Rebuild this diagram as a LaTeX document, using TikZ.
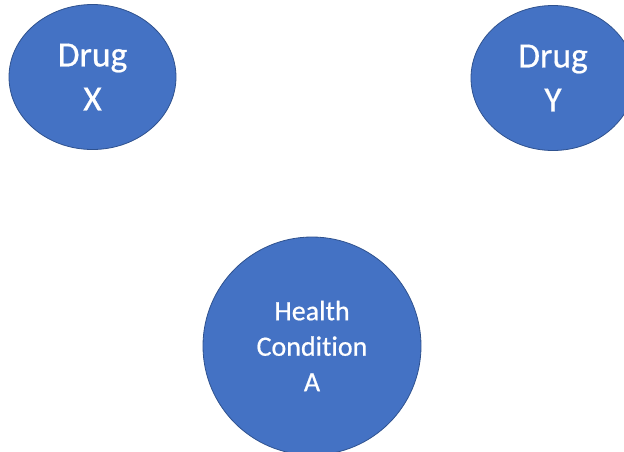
\documentclass[tikz,border=0pt]{standalone}
\usepackage{fontspec}
\setmainfont{Carlito}[Ligatures=NoCommon, FakeBold=0.6]
\usetikzlibrary{shapes.geometric}
\definecolor{officeblue}{HTML}{4472C4}
\definecolor{officeborder}{HTML}{2F528F}
\tikzset{
  bubble/.style={ellipse, fill=officeblue, draw=officeborder, line width=0.8pt,
    text=white, align=center, inner sep=0pt},
  drugfont/.style={font=\fontsize{35.5}{44}\selectfont},
  condfont/.style={font=\fontsize{28}{35.5}\selectfont}
}
\begin{document}
\begin{tikzpicture}[x=1pt,y=-1pt]
\useasboundingbox (0,0) rectangle (624,451);
\clip (0,0) rectangle (624,451);
\fill[white] (0,0) rectangle (624,451);
\node[bubble, drugfont, minimum width=167pt, minimum height=145pt] (x) at (92.5,77) {Drug\\X};
\node[bubble, drugfont, minimum width=164pt, minimum height=145pt] (y) at (553,78) {Drug\\Y};
\node[bubble, condfont, minimum width=218pt, minimum height=218pt] (a) at (312,346) {Health\\Condition\\A};
\end{tikzpicture}
\end{document}
